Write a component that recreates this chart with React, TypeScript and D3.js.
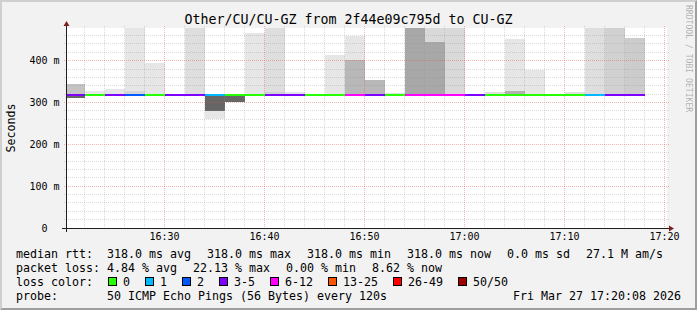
import React from "react";
import * as d3 from "d3";

const WIDTH = 697;
const HEIGHT = 310;
const MONO = "'DejaVu Sans Mono', monospace";

// ---- data ----
const rangeStart = new Date(2026, 2, 27, 16, 20, 8);
const rangeEnd = new Date(2026, 2, 27, 17, 20, 8);
const firstBinStart = new Date(2026, 2, 27, 16, 20, 0);
const stepMinutes = 2;
const yMax = 478;

const medianRtt = [318, 318, 318, 318, 318, 318, 318, 318, 318, 318, 318, 318, 318, 318, 318, 318, 318, 318, 318, 318, 318, 318, 318, 318, 318, 318, 318, 318, 318];
const lostPings = [4, 0, 4, 2, 0, 4, 4, 1, 0, 0, 4, 4, 0, 0, 8, 4, 0, 8, 8, 8, 4, 0, 0, 0, 0, 0, 1, 4, 4];

const smokeMax = [343, 327, 333, 490, 395, null, 490, null, null, 466, 490, 324, null, 413, 459, 354, 322, 490, 490, 490, null, 325, 452, 378, null, 324, 490, 490, 455];
const smokeMaxDensity = [0.23, 0.09, 0.1, 0.1, 0.1, 0, 0.13, 0, 0, 0.1, 0.13, 0.1, 0, 0.1, 0.1, 0.28, 0.12, 0.34, 0.15, 0.15, 0, 0.12, 0.1, 0.1, 0, 0.12, 0.13, 0.18, 0.2];
const smokeUpperInner = [null, null, null, 328, null, null, null, null, null, null, 326, null, null, null, 401, null, null, null, 445, null, null, null, 328, null, null, null, null, null, null];
const smokeUpperInnerDensity = [0, 0, 0, 0.165, 0, 0, 0, 0, 0, 0, 0.18, 0, 0, 0, 0.28, 0, 0, 0, 0.34, 0, 0, 0, 0.31, 0, 0, 0, 0, 0, 0];
const smokeLowerInner = [311, null, null, null, null, null, null, 280, 300, null, null, null, null, null, null, null, null, null, null, null, null, null, null, null, null, null, null, null, null];
const smokeLowerInnerDensity = [0.6, 0, 0, 0, 0, 0, 0, 0.6, 0.6, 0, 0, 0, 0, 0, 0, 0, 0, 0, 0, 0, 0, 0, 0, 0, 0, 0, 0, 0, 0];
const smokeMin = [null, null, null, null, null, null, null, 260, null, null, null, null, null, null, null, null, null, null, null, null, null, null, null, null, null, null, null, null, null];
const smokeMinDensity = [0, 0, 0, 0, 0, 0, 0, 0.1, 0, 0, 0, 0, 0, 0, 0, 0, 0, 0, 0, 0, 0, 0, 0, 0, 0, 0, 0, 0, 0];

const yTickValues = [0, 100, 200, 300, 400];
const yTickLabels = ["0  ", "100 m", "200 m", "300 m", "400 m"];
const xTickLabels = ["16:30", "16:40", "16:50", "17:00", "17:10", "17:20"];

const titleText = "Other/CU/CU-GZ from 2f44e09c795d to CU-GZ";
const yAxisTitle = "Seconds";
const rttStats = ["318.0 ms avg", "318.0 ms max", "318.0 ms min", "318.0 ms now", "0.0 ms sd", "27.1 M am/s"];
const lossStats = ["4.84 % avg", "22.13 % max", "0.00 % min", "8.62 % now"];
const lossLabels = ["0", "1", "2", "3-5", "6-12", "13-25", "26-49", "50/50"];
const lossUpper = [0, 1, 2, 5, 12, 25, 49, 50];
const lossColors = ["#26ff00", "#00b8ff", "#0059ff", "#7e00ff", "#ff00ff", "#ff5500", "#ff0000", "#a00000"];
const probeText = "50 ICMP Echo Pings (56 Bytes) every 120s";
const dateText = "Fri Mar 27 17:20:08 2026";
const watermark = "RRDTOOL / TOBI OETIKER";

// ---- layout ----
const X0 = 66, X1 = 666, Y0 = 228, Y1 = 28;
const CHAR = 7;
const GAP = 16;

const grey = (d: number) => {
  const g = Math.round(255 * (1 - d));
  return d3.rgb(g, g, g).formatHex();
};
const lossColor = (n: number) => {
  const k = lossUpper.findIndex((u) => n <= u);
  return lossColors[k < 0 ? lossColors.length - 1 : k];
};

export default function App() {
  const x = d3.scaleTime().domain([rangeStart, rangeEnd]).range([X0, X1]);
  const y = d3.scaleLinear().domain([0, yMax]).range([Y0, Y1]);

  const bins = medianRtt.map((m, i) => {
    const t0 = d3.timeMinute.offset(firstBinStart, i * stepMinutes);
    const t1 = d3.timeMinute.offset(firstBinStart, (i + 1) * stepMinutes);
    const bands: { lo: number; hi: number; d: number }[] = [];
    if (smokeMax[i] != null) bands.push({ lo: m, hi: smokeMax[i] as number, d: smokeMaxDensity[i] });
    if (smokeUpperInner[i] != null) bands.push({ lo: m, hi: smokeUpperInner[i] as number, d: smokeUpperInnerDensity[i] });
    if (smokeMin[i] != null) bands.push({ lo: smokeMin[i] as number, hi: m, d: smokeMinDensity[i] });
    if (smokeLowerInner[i] != null) bands.push({ lo: smokeLowerInner[i] as number, hi: m, d: smokeLowerInnerDensity[i] });
    return { i, m, x0: Math.round(x(t0)), x1: Math.round(x(t1)), bands, color: lossColor(lostPings[i]) };
  });

  const majorTimes = d3.timeMinute.every(10)!.range(rangeStart, rangeEnd);
  const minorTimes = d3.timeMinute.every(2)!.range(rangeStart, rangeEnd).filter((t) => t.getMinutes() % 10 !== 0);
  const minorY = d3.range(20, yMax, 20).filter((v) => v % 100 !== 0);
  const majorY = yTickValues.filter((v) => v > 0);

  const px = (v: number) => Math.floor(v) + 0.5;

  const place = (items: string[], start: number) => {
    let cx = start;
    return items.map((s) => {
      const r = { s, x: cx };
      cx += s.length * CHAR + GAP;
      return r;
    });
  };
  const rttPos = place(rttStats, 107);
  const lossPos = place(lossStats, 107);
  let lx = 108;
  const lossLegend = lossLabels.map((l, k) => {
    const r = { l, x: lx, c: lossColors[k] };
    lx += 30 + CHAR * l.length;
    return r;
  });

  const minorStroke = "rgba(143,143,143,0.32)";
  const majorStroke = "rgba(222,79,79,0.42)";
  const fs = 11.63;

  return (
    <svg width={WIDTH} height={HEIGHT} style={{ position: "absolute", left: 0, top: 0, display: "block" }} fontFamily={MONO}>
      <defs>
        <clipPath id="canvas">
          <rect x={X0} y={Y1} width={X1 - X0 + 1} height={Y0 - Y1} />
        </clipPath>
      </defs>
      <rect x={0} y={0} width={WIDTH} height={HEIGHT} fill="#f2f2f2" />
      <polygon points={`0,${HEIGHT} 2,${HEIGHT - 2} 2,2 ${WIDTH - 2},2 ${WIDTH},0 0,0`} fill="#cfcfcf" />
      <polygon points={`2,${HEIGHT - 2} ${WIDTH - 2},${HEIGHT - 2} ${WIDTH - 2},2 ${WIDTH},0 ${WIDTH},${HEIGHT} 0,${HEIGHT}`} fill="#9e9e9e" />
      <rect x={X0} y={Y1} width={X1 - X0 + 1} height={Y0 - Y1} fill="#ffffff" />

      <g clipPath="url(#canvas)" shapeRendering="crispEdges">
        {bins.map((b) =>
          b.bands.map((bd, k) => (
            <rect key={`${b.i}-${k}`} x={b.x0} width={b.x1 - b.x0} y={y(bd.hi)} height={y(bd.lo) - y(bd.hi)} fill={grey(bd.d)} />
          ))
        )}
      </g>

      <g strokeWidth={1} strokeDasharray="1,1" fill="none">
        {minorTimes.map((t, k) => (
          <line key={`mx${k}`} x1={px(x(t))} x2={px(x(t))} y1={Y1 - 2} y2={Y0 + 2} stroke={minorStroke} />
        ))}
        {minorY.map((v, k) => (
          <line key={`my${k}`} x1={X0 - 2} x2={X1 + 3} y1={px(y(v))} y2={px(y(v))} stroke={minorStroke} />
        ))}
        {majorTimes.map((t, k) => (
          <line key={`Mx${k}`} x1={px(x(t))} x2={px(x(t))} y1={Y1 - 2} y2={Y0 + 2} stroke={majorStroke} />
        ))}
        {majorY.map((v, k) => (
          <line key={`My${k}`} x1={X0 - 2} x2={X1 + 3} y1={px(y(v))} y2={px(y(v))} stroke={majorStroke} />
        ))}
      </g>

      <g clipPath="url(#canvas)">
        {bins.map((b) => (
          <line key={`m${b.i}`} x1={b.x0} x2={b.x1} y1={Math.round(y(b.m))} y2={Math.round(y(b.m))} stroke={b.color} strokeWidth={2} />
        ))}
      </g>

      {/* axes */}
      <line x1={X0 - 4} x2={X1 + 4} y1={Y0 + 0.5} y2={Y0 + 0.5} stroke="#1f1f1f" strokeWidth={1} />
      <line x1={X0 + 0.5} x2={X0 + 0.5} y1={Y0 + 4} y2={Y1 - 4} stroke="#1f1f1f" strokeWidth={1} />
      <polygon points={`${X0 + 0.5 - 3},${Y1 - 2} ${X0 + 0.5 + 3},${Y1 - 2} ${X0 + 0.5},${Y1 - 7}`} fill="#801f1f" />
      <polygon points={`${X1 + 3},${Y0 + 0.5 - 3} ${X1 + 3},${Y0 + 0.5 + 3} ${X1 + 8},${Y0 + 0.5}`} fill="#801f1f" />

      {/* axis labels */}
      <g fontSize={10} fill="#000">
        {yTickValues.map((v, k) => (
          <text key={`yl${k}`} x={59.5} y={px(y(v)) + 3.3} textAnchor="end" style={{ whiteSpace: "pre" }}>
            {yTickLabels[k]}
          </text>
        ))}
        {majorTimes.map((t, k) => (
          <text key={`xl${k}`} x={px(x(t))} y={240} textAnchor="middle">
            {xTickLabels[k]}
          </text>
        ))}
      </g>

      <text x={WIDTH / 2} y={23.5} textAnchor="middle" fontSize={13.3} fill="#000">{titleText}</text>
      <text transform="translate(15,128) rotate(-90)" textAnchor="middle" fontSize={fs} fill="#000">{yAxisTitle}</text>
      <text transform="translate(685.5,5) rotate(90)" fontSize={8.1} fill="rgba(0,0,0,0.3)">{watermark}</text>

      {/* legend */}
      <g fontSize={fs} fill="#000">
        <text x={16} y={258.3}>median rtt:</text>
        {rttPos.map((p, k) => (
          <text key={`r${k}`} x={p.x} y={258.3} style={{ whiteSpace: "pre" }}>{p.s}</text>
        ))}
        <text x={16} y={272.3}>packet loss:</text>
        {lossPos.map((p, k) => (
          <text key={`p${k}`} x={p.x} y={272.3} style={{ whiteSpace: "pre" }}>{p.s}</text>
        ))}
        <text x={16} y={286.3}>loss color:</text>
        {lossLegend.map((e, k) => (
          <g key={`lc${k}`}>
            <rect x={e.x + 0.5} y={277.5} width={8} height={8} fill={e.c} stroke="#000" strokeWidth={1} />
            <text x={e.x + 15} y={286.3}>{e.l}</text>
          </g>
        ))}
        <text x={16} y={300.3}>probe:</text>
        <text x={107} y={300.3} style={{ whiteSpace: "pre" }}>{probeText}</text>
        <text x={681} y={300.3} textAnchor="end">{dateText}</text>
      </g>
    </svg>
  );
}
